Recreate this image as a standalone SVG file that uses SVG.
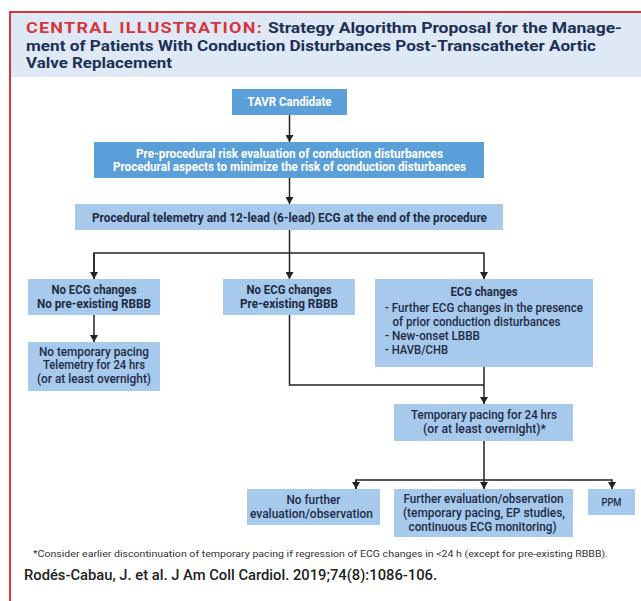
<svg xmlns="http://www.w3.org/2000/svg" width="641" height="601" viewBox="0 0 641 601">
<style>
  text { font-family: Roboto, "Liberation Sans", Arial, sans-serif; }
  .hdr { font-size: 14.5px; font-weight: 700; fill: #1c2f54; }
  .red { font-size: 14.5px; font-weight: 700; fill: #d6353d; letter-spacing: 1px; }
  .dark { fill: #5b9fd9; }
  .light { fill: #a6c9ec; }
  .wt { font-size: 12px; font-weight: 700; fill: #ffffff; text-anchor: middle; }
  .bt { font-size: 12px; font-weight: 700; fill: #1e2a44; text-anchor: middle; }
  .mt { font-size: 12px; font-weight: 500; fill: #1e2a44; text-anchor: middle; }
  .ml { font-size: 12px; font-weight: 500; fill: #1e2a44; }
  .conn { stroke: #222222; stroke-width: 1.5; fill: none; }
  .foot { font-size: 9.5px; fill: #333333; }
  .cite { font-size: 14.5px; font-weight: 500; fill: #222222; }
</style>
<defs>
  <marker id="ah" markerWidth="7" markerHeight="8" refX="7" refY="4" orient="auto" markerUnits="userSpaceOnUse">
    <path d="M0,0 L7,4 L0,8 z" fill="#222222"/>
  </marker>
</defs>
<rect x="0" y="0" width="641" height="601" fill="#ffffff"/>
<g id="frame">
  <rect x="10" y="12" width="631" height="65" fill="#dfe9f5"/>
  <path d="M10,601 L10,12 L641,12" fill="none" stroke="#d6353d" stroke-width="2"/>
</g>
<g id="title">
  <text class="red" x="26" y="33" textLength="237" lengthAdjust="spacingAndGlyphs">CENTRAL ILLUSTRATION:</text>
  <text class="hdr" x="268" y="33" textLength="354" lengthAdjust="spacingAndGlyphs">Strategy Algorithm Proposal for the Manage-</text>
  <text class="hdr" x="26" y="51" textLength="570" lengthAdjust="spacingAndGlyphs">ment of Patients With Conduction Disturbances Post-Transcatheter Aortic</text>
  <text class="hdr" x="26" y="68" textLength="146" lengthAdjust="spacingAndGlyphs">Valve Replacement</text>
</g>
<g id="connectors">
  <line class="conn" x1="289.5" y1="115" x2="289.5" y2="142" marker-end="url(#ah)"/>
  <line class="conn" x1="289.5" y1="178" x2="289.5" y2="204" marker-end="url(#ah)"/>
  <line class="conn" x1="289.5" y1="230" x2="289.5" y2="279" marker-end="url(#ah)"/>
  <path class="conn" d="M94,279 L94,253 L484,253 L484,279" marker-end="url(#ah)"/>
  <path class="conn" d="M94,253 L94,279" marker-end="url(#ah)"/>
  <line class="conn" x1="94" y1="315" x2="94" y2="342" marker-end="url(#ah)"/>
  <path class="conn" d="M289.5,315 L289.5,385 L484,385"/>
  <line class="conn" x1="484" y1="367" x2="484" y2="404" marker-end="url(#ah)"/>
  <line class="conn" x1="484" y1="441" x2="484" y2="489" marker-end="url(#ah)"/>
  <path class="conn" d="M356,489 L356,480 L612,480 L612,489" marker-end="url(#ah)"/>
  <path class="conn" d="M356,480 L356,489" marker-end="url(#ah)"/>
</g>
<g id="tavr">
  <rect class="dark" x="232" y="89" width="115" height="26"/>
  <text class="wt" x="289.5" y="106" textLength="84" lengthAdjust="spacingAndGlyphs">TAVR Candidate</text>
</g>
<g id="preprocedural">
  <rect class="dark" x="94" y="142" width="390" height="36"/>
  <text class="wt" x="289.5" y="157.5" textLength="307" lengthAdjust="spacingAndGlyphs">Pre-procedural risk evaluation of conduction disturbances</text>
  <text class="wt" x="289.5" y="171" textLength="353" lengthAdjust="spacingAndGlyphs">Procedural aspects to minimize the risk of conduction disturbances</text>
</g>
<g id="telemetry">
  <rect class="light" x="75" y="204" width="428" height="26"/>
  <text class="bt" x="289.5" y="221.5" textLength="395" lengthAdjust="spacingAndGlyphs">Procedural telemetry and 12-lead (6-lead) ECG at the end of the procedure</text>
</g>
<g id="no-changes-no-rbbb">
  <rect class="light" x="28" y="279" width="132" height="36"/>
  <text class="bt" x="94" y="294" textLength="85" lengthAdjust="spacingAndGlyphs">No ECG changes</text>
  <text class="bt" x="94" y="308" textLength="114" lengthAdjust="spacingAndGlyphs">No pre-existing RBBB</text>
</g>
<g id="no-changes-rbbb">
  <rect class="light" x="223" y="279" width="132" height="36"/>
  <text class="bt" x="289" y="294" textLength="85" lengthAdjust="spacingAndGlyphs">No ECG changes</text>
  <text class="bt" x="289" y="308" textLength="98" lengthAdjust="spacingAndGlyphs">Pre-existing RBBB</text>
</g>
<g id="ecg-changes">
  <rect class="light" x="375" y="279" width="218" height="88"/>
  <text class="bt" x="484" y="295.5" textLength="67" lengthAdjust="spacingAndGlyphs">ECG changes</text>
  <text class="ml" x="385" y="312" textLength="198" lengthAdjust="spacingAndGlyphs">- Further ECG changes in the presence</text>
  <text class="ml" x="392.5" y="325.8" textLength="168" lengthAdjust="spacingAndGlyphs">of prior conduction disturbances</text>
  <text class="ml" x="385" y="339.8" textLength="95" lengthAdjust="spacingAndGlyphs">- New-onset LBBB</text>
  <text class="ml" x="385" y="353.8" textLength="63" lengthAdjust="spacingAndGlyphs">- HAVB/CHB</text>
</g>
<g id="no-temp-pacing">
  <rect class="light" x="28" y="342" width="132" height="49"/>
  <text class="mt" x="94" y="355.5" textLength="110" lengthAdjust="spacingAndGlyphs">No temporary pacing</text>
  <text class="mt" x="94" y="369" textLength="102" lengthAdjust="spacingAndGlyphs">Telemetry for 24 hrs</text>
  <text class="mt" x="94" y="382.5" textLength="114" lengthAdjust="spacingAndGlyphs">(or at least overnight)</text>
</g>
<g id="temp-pacing">
  <rect class="light" x="394" y="404" width="179" height="37"/>
  <text class="mt" x="484" y="419" textLength="146" lengthAdjust="spacingAndGlyphs">Temporary pacing for 24 hrs</text>
  <text class="mt" x="484.5" y="432.5" textLength="123" lengthAdjust="spacingAndGlyphs">(or at least overnight)*</text>
</g>
<g id="no-further">
  <rect class="light" x="247" y="489" width="133" height="36"/>
  <text class="mt" x="313.5" y="503.8" textLength="54" lengthAdjust="spacingAndGlyphs">No further</text>
  <text class="mt" x="311.5" y="517.5" textLength="123" lengthAdjust="spacingAndGlyphs">evaluation/observation</text>
</g>
<g id="further-eval">
  <rect class="light" x="394" y="489" width="179" height="48"/>
  <text class="mt" x="483.5" y="502.5" textLength="160" lengthAdjust="spacingAndGlyphs">Further evaluation/observation</text>
  <text class="mt" x="484" y="516.5" textLength="162" lengthAdjust="spacingAndGlyphs">(temporary pacing, EP studies,</text>
  <text class="mt" x="482.5" y="530.5" textLength="148" lengthAdjust="spacingAndGlyphs">continuous ECG monitoring)</text>
</g>
<g id="ppm">
  <rect class="light" x="588" y="489" width="47" height="26"/>
  <text class="mt" x="611.5" y="505.5" style="font-size:10px" textLength="20" lengthAdjust="spacingAndGlyphs">PPM</text>
</g>
<g id="footer">
  <text class="foot" x="33" y="557" textLength="575" lengthAdjust="spacingAndGlyphs">*Consider earlier discontinuation of temporary pacing if regression of ECG changes in &lt;24 h (except for pre-existing RBBB).</text>
  <text class="cite" x="24" y="579.5" textLength="413" lengthAdjust="spacingAndGlyphs">Rodés-Cabau, J. et al. J Am Coll Cardiol. 2019;74(8):1086-106.</text>
</g>
</svg>
